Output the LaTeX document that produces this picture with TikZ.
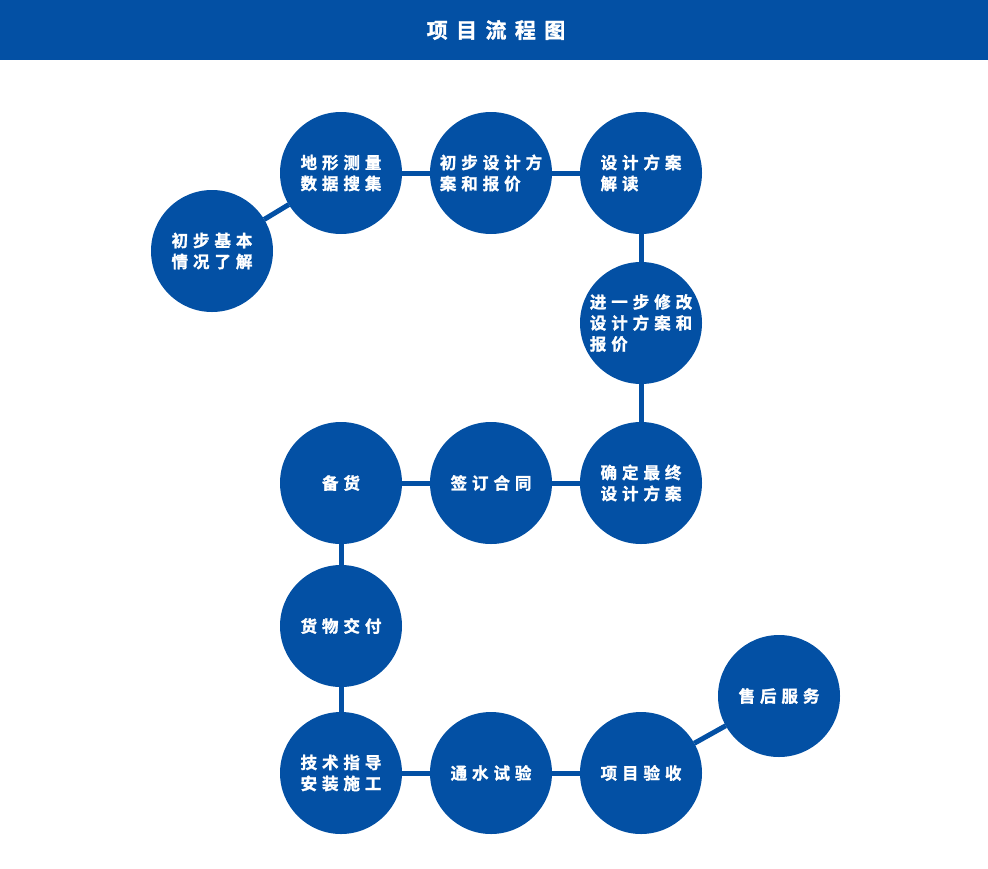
\documentclass[tikz,border=0pt]{standalone}
\usepackage{fontspec}
\setmainfont{Noto Sans CJK SC}[LetterSpace=30, BoldFont={Noto Sans CJK SC Bold}, BoldFeatures={FakeBold=1.5}]
\newfontfamily\titlefont{Noto Sans CJK SC}[LetterSpace=40, BoldFont={Noto Sans CJK SC Bold}, BoldFeatures={FakeBold=1.5}]
\usetikzlibrary{positioning}
\definecolor{flowblue}{RGB}{3,80,164}

\begin{document}
\begin{tikzpicture}[
    x=1pt, y=1pt,
    node distance=150pt,
    stage/.style={circle, fill=flowblue, minimum size=122pt, inner sep=0pt, outer sep=0pt, text=white, font=\fontsize{16.5}{21}\selectfont\bfseries, align=left},
    link/.style={draw=flowblue, line width=5pt}
]
\useasboundingbox (0,0) rectangle (988,-868);

% Header
\fill[flowblue] (0,0) rectangle (988,-60);
\node[text=white, font=\titlefont\fontsize{21}{24}\selectfont\bfseries] (title) at (496,-30) {项目流程图};

% First row
\node[stage] (survey) at (341,-173) {地形测量\\数据搜集};
\node[stage, left of=survey, xshift=21pt, yshift=-78pt] (basic) {初步基本\\情况了解};
\node[stage, right of=survey] (quote) {初步设计方\\案和报价};
\node[stage, right of=quote] (reading) {设计方案\\解读};

% Right column
\node[stage, below of=reading] (revise) {进一步修改\\设计方案和\\报价};
\node[stage, below of=revise, yshift=-10pt] (final) {确定最终\\设计方案};

% Middle row
\node[stage, left of=final] (contract) {签订合同};
\node[stage, left of=contract] (stock) {备货};

% Left column
\node[stage, below of=stock, yshift=7pt] (delivery) {货物交付};
\node[stage, below of=delivery, yshift=3pt] (install) {技术指导\\安装施工};

% Last row
\node[stage, right of=install] (test) {通水试验};
\node[stage, right of=test] (accept) {项目验收};
\node[stage, right of=accept, xshift=-12pt, yshift=77pt] (service) {售后服务};

% Links
\draw[link] (basic) -- (survey);
\draw[link] (survey) -- (quote);
\draw[link] (quote) -- (reading);
\draw[link] (reading) -- (revise);
\draw[link] (revise) -- (final);
\draw[link] (final) -- (contract);
\draw[link] (contract) -- (stock);
\draw[link] (stock) -- (delivery);
\draw[link] (delivery) -- (install);
\draw[link] (install) -- (test);
\draw[link] (test) -- (accept);
\draw[link] (accept) -- (service);

\end{tikzpicture}
\end{document}
